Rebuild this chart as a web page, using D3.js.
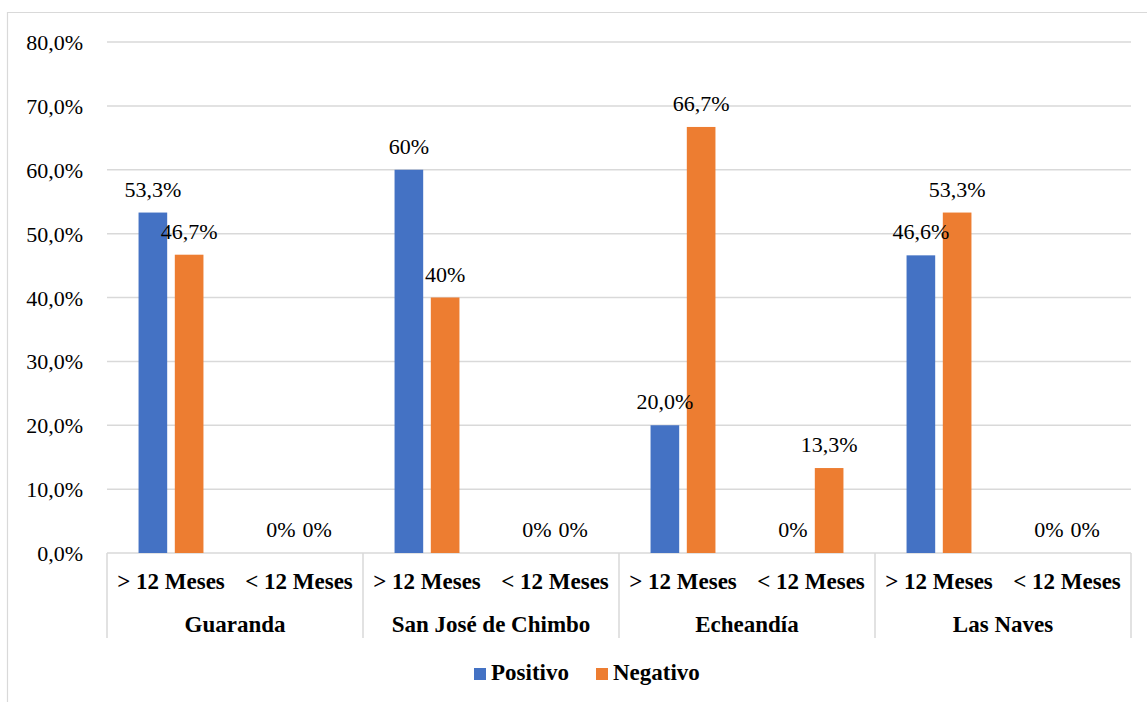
<!DOCTYPE html>
<html><head><meta charset="utf-8">
<script src="https://cdn.jsdelivr.net/npm/d3@7"></script>
</head><body style="margin:0">
<svg id="c" width="1147" height="702" font-family="serif"></svg>
<script>
const groups = ["Guaranda","San José de Chimbo","Echeandía","Las Naves"];
const subCats = ["> 12 Meses","< 12 Meses"];
const seriesNames = ["Positivo","Negativo"];
const positivo = [53.3, 0, 60, 0, 20, 0, 46.6, 0];
const negativo = [46.7, 0, 40, 0, 66.7, 13.3, 53.3, 0];
const positivoLabels = ["53,3%","0%","60%","0%","20,0%","0%","46,6%","0%"];
const negativoLabels = ["46,7%","0%","40%","0%","66,7%","13,3%","53,3%","0%"];
const yTicks = [0,10,20,30,40,50,60,70,80];
const colors = ["#4472c4","#ed7d31"];

(function(){
const FONT = 'Tinos, serif';
const BFONT = '"Times New Roman", serif';
const svg = d3.select("#c");
const W = 1147, H = 702;
const pL = 107, pR = 1131, pT = 42, pB = 553;

svg.append("path").attr("d", `M7.5,${H} V12.5 H${W}`).attr("fill","none").attr("stroke","#d9d9d9").attr("stroke-width",1.2);

const cats = [];
groups.forEach((g,gi)=>subCats.forEach((s,si)=>cats.push({g,s,gi,si,i:gi*2+si})));

const x0 = d3.scaleBand().domain(cats.map(d=>d.i)).range([pL,pR]).padding(0);
const xg = d3.scaleBand().domain(groups).range([pL,pR]).padding(0);
const x1 = d3.scaleBand().domain(seriesNames).range([0,x0.bandwidth()]).paddingInner(0.21).paddingOuter(0.87);
const y = d3.scaleLinear().domain([0,80]).range([pB,pT]);

svg.append("g").selectAll("line").data(yTicks).join("line")
  .attr("x1",pL).attr("x2",pR).attr("y1",d=>y(d)).attr("y2",d=>y(d))
  .attr("stroke","#d9d9d9").attr("stroke-width",1.5);
svg.append("g").selectAll("text").data(yTicks).join("text")
  .attr("x",83).attr("y",d=>y(d)+8).attr("text-anchor","end")
  .attr("font-family",FONT).style("font-family",FONT).style("font-size","22px")
  .text(d=>d3.format(".1f")(d).replace(".",",")+"%");

const bounds = groups.map(g=>xg(g)).concat([pR]);
svg.append("g").selectAll("line").data(bounds).join("line").attr("x1",d=>d).attr("x2",d=>d).attr("y1",pB).attr("y2",638).attr("stroke","#d9d9d9").attr("stroke-width",1.5);

const series = [positivo, negativo];
const labels = [positivoLabels, negativoLabels];
series.forEach((vals,si)=>{
  svg.append("g").selectAll("rect").data(cats).join("rect")
    .attr("x",d=>x0(d.i)+x1(seriesNames[si]))
    .attr("width",x1.bandwidth())
    .attr("y",d=>y(vals[d.i]))
    .attr("height",d=>pB-y(vals[d.i]))
    .attr("fill",colors[si]);
});
series.forEach((vals,si)=>{
  svg.append("g").selectAll("text").data(cats).join("text")
    .attr("x",d=>x0(d.i)+x1(seriesNames[si])+x1.bandwidth()/2)
    .attr("y",d=>y(vals[d.i])-16)
    .attr("text-anchor","middle").attr("font-family",FONT).style("font-family",FONT).style("font-size","22px")
    .text(d=>labels[si][d.i]);
});

svg.append("g").selectAll("text").data(cats).join("text")
  .attr("x",d=>x0(d.i)+x0.bandwidth()/2).attr("y",589)
  .attr("text-anchor","middle").attr("font-family",BFONT).style("font-family",BFONT).style("font-size","23px").style("font-weight","bold")
  .text(d=>d.s);
svg.append("g").selectAll("text").data(groups).join("text")
  .attr("x",d=>xg(d)+xg.bandwidth()/2).attr("y",632)
  .attr("text-anchor","middle").attr("font-family",BFONT).style("font-family",BFONT).style("font-size","23px").style("font-weight","bold")
  .text(d=>d);

const lg = svg.append("g");
const items = [{n:seriesNames[0],x:474,c:colors[0]},{n:seriesNames[1],x:596,c:colors[1]}];
items.forEach(it=>{
  lg.append("rect").attr("x",it.x).attr("y",668).attr("width",12).attr("height",12).attr("fill",it.c);
  lg.append("text").attr("x",it.x+17).attr("y",680).attr("font-family",BFONT).style("font-family",BFONT).style("font-size","23px").style("font-weight","bold").text(it.n);
});
})();
</script>
</body></html>
